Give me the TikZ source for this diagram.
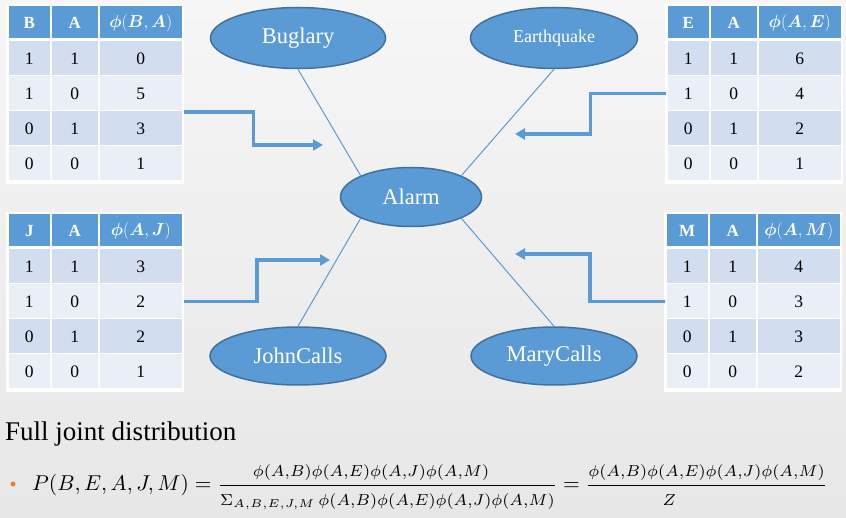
\documentclass[tikz,border=0pt]{standalone}
\usepackage{bm}
\usepackage{graphicx}
\usepackage[no-math]{fontspec}
\setmainfont{Liberation Serif}
\usetikzlibrary{shapes.geometric,arrows.meta,calc}
\definecolor{pblue}{HTML}{5B9BD5}
\definecolor{pdark}{HTML}{41719C}
\definecolor{rowA}{HTML}{D2DEEF}
\definecolor{rowB}{HTML}{EAEFF7}
\definecolor{bgtop}{HTML}{F6F6F6}
\definecolor{bgbot}{HTML}{E7E7E7}
\definecolor{porange}{HTML}{ED7D31}
\tikzset{
 cellbase/.style={rectangle, draw=white, line width=1.5pt, inner sep=0pt, minimum height=35.5pt, anchor=north west, font=\fontsize{17.5}{20}\selectfont},
 hcell/.style={cellbase, fill=pblue, text=white, minimum height=35pt, font=\fontsize{17}{20}\selectfont\bfseries},
 tabframe/.style={rectangle, fill=white, inner sep=0pt, anchor=north west, minimum width=178pt, minimum height=180pt},
 var/.style={ellipse, fill=pblue, draw=pdark, line width=1.5pt, text=white, inner sep=0pt, font=\fontsize{22.5}{26}\selectfont},
 link/.style={pblue, line width=1pt},
 fat/.style={pblue, line width=3.5pt, -{Triangle[length=10pt,width=11pt]}},
}
\newcommand\ptab[7]{%
 \node[tabframe] (#1) at (#2-1.5,#3-1.5) {};
 \node[hcell, minimum width=43pt] (#1-h1) at (#2,#3) {#4};
 \node[hcell, minimum width=48pt] (#1-h2) at (#2+43,#3) {#5};
 \node[hcell, minimum width=84pt] (#1-h3) at (#2+91,#3) {#6};
 \foreach \a/\b/\c [count=\i] in {#7} {
   \ifodd\i\relax\def\rc{rowA}\else\def\rc{rowB}\fi
   \node[cellbase, fill=\rc, minimum width=43pt] (#1-r\i c1) at (#2, #3+35*\i) {\a};
   \node[cellbase, fill=\rc, minimum width=48pt] (#1-r\i c2) at (#2+43, #3+35*\i) {\b};
   \node[cellbase, fill=\rc, minimum width=84pt] (#1-r\i c3) at (#2+91, #3+35*\i) {\c};
 }
 \draw[white, line width=3pt] (#2,#3+35) -- (#2+175,#3+35);
}
\newcommand\prodphi{\phi(A,B)\phi(A,E)\phi(A,J)\phi(A,M)}
\newcommand\fracpart[1]{\scalebox{1.06}{$\scriptstyle #1$}}
\begin{document}
\begin{tikzpicture}[x=1pt,y=-1pt]
\useasboundingbox (0,0) rectangle (846,518);
\shade[top color=bgtop, bottom color=bgbot] (0,0) rectangle (846,518);

\ptab{tBA}{7}{5}{B}{A}{$\bm{\phi}(\bm{B},\bm{A})$}{1/1/0,1/0/5,0/1/3,0/0/1}
\ptab{tAE}{666}{5}{E}{A}{$\bm{\phi}(\bm{A},\bm{E})$}{1/1/6,1/0/4,0/1/2,0/0/1}
\ptab{tAJ}{7}{213}{J}{A}{$\bm{\phi}(\bm{A},\bm{J})$}{1/1/3,1/0/2,0/1/2,0/0/1}
\ptab{tAM}{665}{213}{M}{A}{$\bm{\phi}(\bm{A},\bm{M})$}{1/1/4,1/0/3,0/1/3,0/0/2}

\node[var, minimum width=175pt, minimum height=61pt] (bug) at (298,38) {Buglary};
\node[var, minimum width=167pt, minimum height=61pt, font=\fontsize{18}{21}\selectfont] (eq) at (554,38) {Earthquake};
\node[var, minimum width=141pt, minimum height=59pt] (alarm) at (411,197) {Alarm};
\node[var, minimum width=176pt, minimum height=58pt] (john) at (298,356) {JohnCalls};
\node[var, minimum width=166pt, minimum height=58pt] (mary) at (554,356) {MaryCalls};

\draw[link] (bug.south) -- (alarm.north west);
\draw[link] (eq.south) -- (alarm.north east);
\draw[link] (john.north) -- (alarm.south west);
\draw[link] (mary.north) -- (alarm.south east);

\coordinate (tip1) at (323,145);
\coordinate (tip2) at (515,134);
\coordinate (tip3) at (330,260);
\coordinate (tip4) at (515,254);
\draw[fat] (tBA-r2c3.south east) -| ($(tBA-r2c3.south east)!.5!(tip1)$) |- (tip1);
\draw[fat] (tAE-r2c1.west) -| ($(tAE-r2c1.west)!.5!(tip2)$) |- (tip2);
\draw[fat] (tAJ-r2c3.east) -| ($(tAJ-r2c3.east)!.5!(tip3)$) |- (tip3);
\draw[fat] (tAM-r2c1.west) -| ($(tAM-r2c1.west)!.5!(tip4)$) |- (tip4);

\node[anchor=west, inner sep=0pt, font=\fontsize{27}{32}\selectfont] (full) at (5,434) {Full joint distribution};
\node[circle, fill=porange, inner sep=0pt, minimum size=5pt] (dot) at (13,484) {};
\node[anchor=west, inner sep=0pt] (formula) at (32,487) {\resizebox{795pt}{!}{$P(B,E,A,J,M)=\displaystyle\frac{\fracpart{\prodphi}}{\fracpart{\Sigma_{A,B,E,J,M}\,\prodphi}}=\frac{\fracpart{\prodphi}}{\fracpart{Z}}$}};
\end{tikzpicture}
\end{document}
